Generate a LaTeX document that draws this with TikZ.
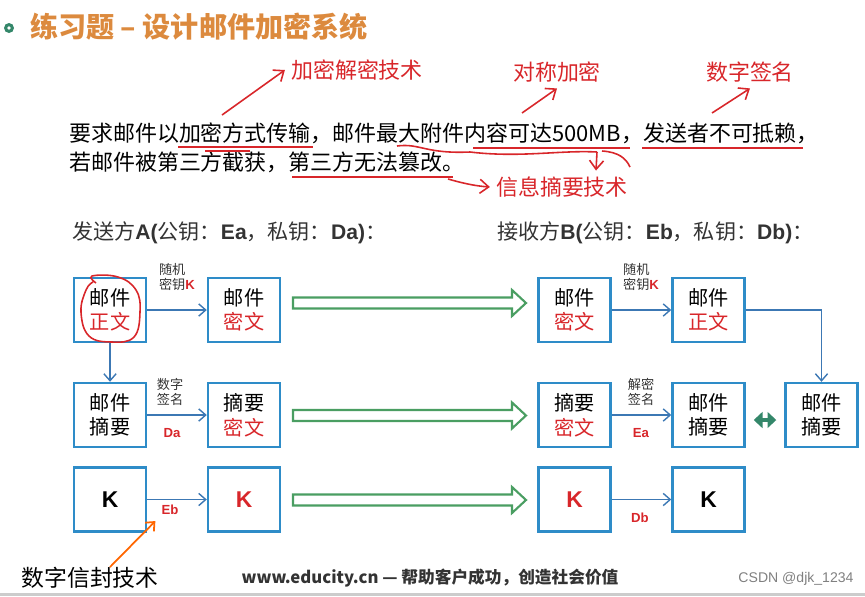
\documentclass[tikz,border=0pt]{standalone}
\usepackage{fontspec}
\setmainfont{Noto Sans CJK SC}
\newfontfamily\arial{Liberation Sans}
\usetikzlibrary{arrows.meta,positioning}

\definecolor{boxblue}{HTML}{2E8CC8}
\definecolor{lineblue}{HTML}{3C78B4}
\definecolor{titleorange}{HTML}{DC8A3E}
\definecolor{annred}{HTML}{D8262A}
\definecolor{greenarr}{HTML}{4A9E62}
\definecolor{darkgreen}{HTML}{34876A}
\definecolor{greytext}{HTML}{333333}

\tikzset{
	mailbox/.style={draw=boxblue, line width=1.4pt, minimum width=1.44cm, minimum height=1.28cm, align=center, font=\fontsize{11.5}{14}\selectfont, inner sep=0pt},
	flow/.style={draw=lineblue, line width=0.8pt, -{Straight Barb[length=4pt,width=7pt]}},
	keytext/.style={font=\fontsize{7.5}{9}\selectfont, align=left, text=greytext},
	keyname/.style={font=\arial\bfseries\fontsize{7.5}{9}\selectfont, text=annred},
	redarr/.style={draw=annred, line width=0.9pt, -{Straight Barb[length=5pt,width=8pt]}},
	redline/.style={draw=annred, line width=0.9pt},
	bigarr/.style={draw=greenarr, line width=1.2pt, fill=white}
}

\begin{document}
\begin{tikzpicture}[x=0.02cm, y=-0.02cm]
	\useasboundingbox (0,0) rectangle (865,596);
	%title
		\fill[darkgreen] (9,28) circle (5);
		\fill[white] (9,28) circle (1.8);
		\node[anchor=west, text=titleorange, font=\bfseries\fontsize{16}{18}\selectfont] (title) at (24,27) {练习题 -- 设计邮件加密系统};
	%requirement text
		\node[anchor=west, font=\fontsize{12.5}{14}\selectfont] (req1) at (63,133) {要求邮件以加密方式传输，邮件最大附件内容可达500MB，发送者不可抵赖，};
		\node[anchor=west, font=\fontsize{12.5}{14}\selectfont] (req2) at (63,162) {若邮件被第三方截获，第三方无法篡改。};
	%annotations
		\node[text=annred, font=\fontsize{12.5}{14}\selectfont] (jiami) at (357,70) {加密解密技术};
		\node[text=annred, font=\fontsize{12.5}{14}\selectfont] (duichen) at (557,72) {对称加密};
		\node[text=annred, font=\fontsize{12.5}{14}\selectfont] (qianming) at (750,72) {数字签名};
		\node[text=annred, font=\fontsize{12.5}{14}\selectfont] (zhaiyao) at (562,187) {信息摘要技术};
		\coordinate (z1) at (596,0);
		\draw[redarr] (222,115) -- (jiami.west);
		\draw[redarr] (522,113) -- (duichen.south);
		\draw[redarr] (712,113) -- (qianming.south);
		\draw[redline] (178,147) -- (313,147);
		\draw[redline] (205,151) -- (250,151);
		\draw[redline] (473,148) -- (630,148);
		\draw[redline] (642,148) -- (803,148);
		\draw[redline] (292,177) -- (453,177);
		\draw[redline] (397,146) .. controls (420,143) and (425,154) .. (470,152)
			.. controls (520,158) and (560,150) .. (597,152);
		\draw[redline] (602,151) .. controls (618,152) and (626,158) .. (630,167);
		\draw[redarr] (597,152) -- (zhaiyao.north -| z1);
		\draw[redarr] (448,179) .. controls (462,183) and (475,186) .. (zhaiyao.west);
	%sender and receiver
		\node[anchor=west, text=greytext, font=\fontsize{12}{14}\selectfont] (sender) at (66,233) {发送方{\arial\bfseries A(}公钥：{\arial\bfseries Ea}，私钥：{\arial\bfseries Da)}：};
		\node[anchor=west, text=greytext, font=\fontsize{12}{14}\selectfont] (receiver) at (491,233) {接收方{\arial\bfseries B(}公钥：{\arial\bfseries Eb}，私钥：{\arial\bfseries Db)}：};
	%sender boxes
		\node[mailbox] (A1) at (110,310) {邮件\\\textcolor{annred}{正文}};
		\node[mailbox] (A2) at (244,310) {邮件\\\textcolor{annred}{密文}};
		\node[mailbox] (A3) at (110,415) {邮件\\摘要};
		\node[mailbox] (A4) at (244,415) {摘要\\\textcolor{annred}{密文}};
		\node[mailbox, font=\arial\bfseries\fontsize{13}{14}\selectfont] (A5) at (110,499.5) {K};
		\node[mailbox, font=\arial\bfseries\fontsize{13}{14}\selectfont, text=annred] (A6) at (244,499.5) {K};
	%receiver boxes
		\node[mailbox] (B1) at (574.5,310) {邮件\\\textcolor{annred}{密文}};
		\node[mailbox] (B2) at (708.5,310) {邮件\\\textcolor{annred}{正文}};
		\node[mailbox] (B3) at (574.5,415) {摘要\\\textcolor{annred}{密文}};
		\node[mailbox] (B4) at (708.5,415) {邮件\\摘要};
		\node[mailbox] (B5) at (821.5,415) {邮件\\摘要};
		\node[mailbox, font=\arial\bfseries\fontsize{13}{14}\selectfont, text=annred] (B6) at (574.5,499.5) {K};
		\node[mailbox, font=\arial\bfseries\fontsize{13}{14}\selectfont] (B7) at (708.5,499.5) {K};
	%flows
		\draw[flow] (A1) -- (A2);
		\draw[flow] (A1) -- (A3);
		\draw[flow] (A3) -- (A4);
		\draw[flow] (A5) -- (A6);
		\draw[flow] (B1) -- (B2);
		\draw[flow] (B3) -- (B4);
		\draw[flow] (B6) -- (B7);
		\draw[flow] (B2.east) -| (B5.north);
		\draw[darkgreen, line width=2.6pt, {Triangle[length=5pt,width=9pt]}-{Triangle[length=5pt,width=9pt]}] ([xshift=0.16cm,yshift=-0.1cm]B4.east) -- ([xshift=-0.16cm,yshift=-0.1cm]B5.west);
	%labels on flows
		\node[keytext] (k1) at (177,277) {随机\\密钥{\arial\bfseries\color{annred}K}};
		\node[keytext] (k2) at (641,277) {随机\\密钥{\arial\bfseries\color{annred}K}};
		\node[keytext] (s1) at (170,392) {数字\\签名};
		\node[keyname] (da) at (172,433) {Da};
		\node[keytext] (s2) at (641,392) {解密\\签名};
		\node[keyname] (ea) at (641,433) {Ea};
		\node[keyname] (eb) at (170,510) {Eb};
		\node[keyname] (db) at (640,518) {Db};
	%transmission arrows
		\foreach \y in {303,415.5,500}
			\draw[bigarr] (293,\y-5.5) -- (512,\y-5.5) -- (512,\y-13) -- (526,\y)
				-- (512,\y+13) -- (512,\y+5.5) -- (293,\y+5.5) -- cycle;
	%red loop round the plain text
		\draw[annred, line width=0.9pt] plot[smooth, tension=0.7] coordinates {(96,283) (92,276) (118,277) (136,290) (140,312) (134,337) (112,342) (89,336) (81,312) (86,290) (93,282)};
	%digital envelope
		\node[font=\fontsize{13}{14}\selectfont] (envelope) at (90,578) {数字信封技术};
		\draw[orange!80!red, line width=1pt, -{Straight Barb[length=4pt,width=7pt]}] (110,567) -- (eb.south west);
	%footer
		\node[font=\bfseries\fontsize{9.5}{11}\selectfont, text=greytext] (footer) at (430,578) {www.educity.cn — 帮助客户成功，创造社会价值};
		\node[font=\arial\fontsize{8}{9}\selectfont, text=gray] (csdn) at (796,579) {CSDN @djk\_1234};
		\fill[gray!40] (0,593) rectangle (865,596);
\end{tikzpicture}
\end{document}
